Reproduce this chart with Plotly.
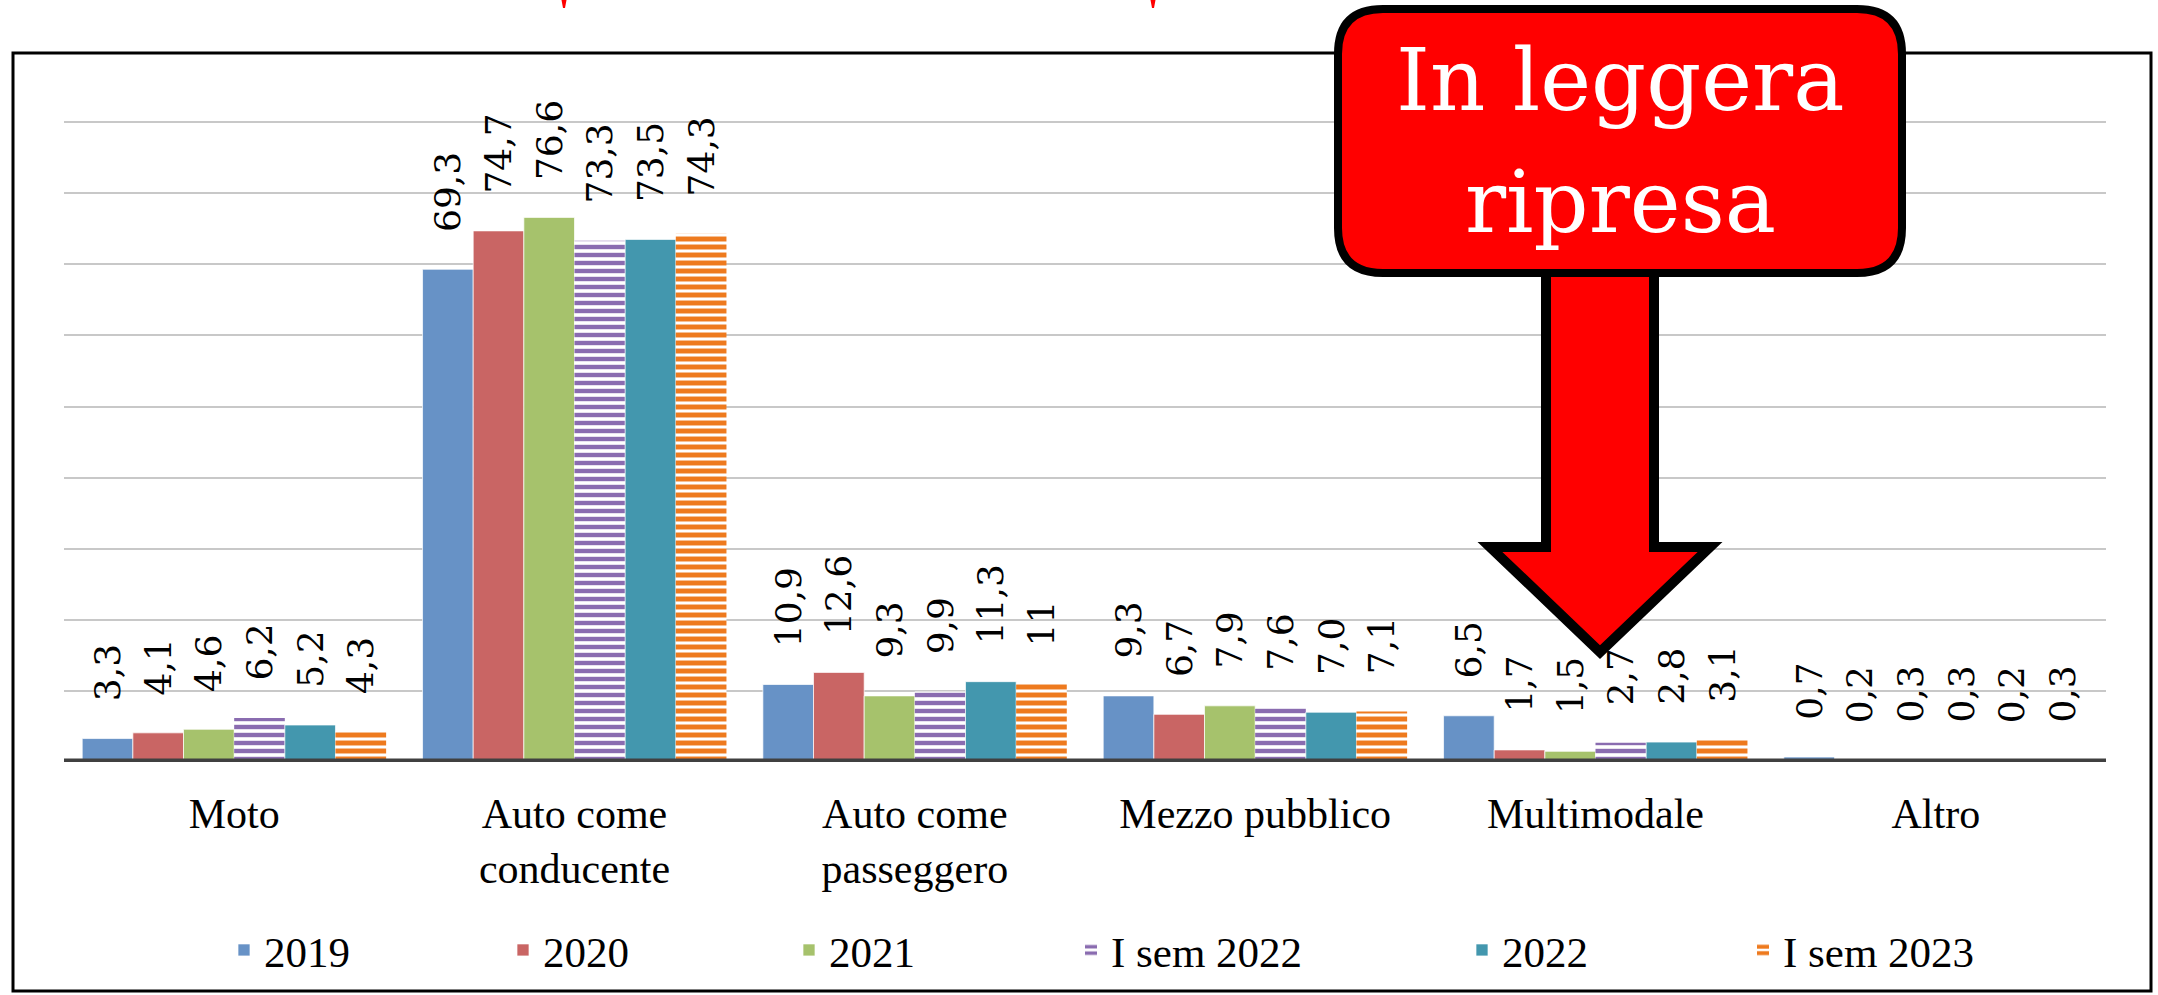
import plotly.graph_objects as go

# ---------------- data ----------------
categories = ["Moto", "Auto come<br>conducente", "Auto come<br>passeggero",
              "Mezzo pubblico", "Multimodale", "Altro"]
series_names = ["2019", "2020", "2021", "I sem 2022", "2022", "I sem 2023"]
v2019 = [3.3, 69.3, 10.9, 9.3, 6.5, 0.7]
v2020 = [4.1, 74.7, 12.6, 6.7, 1.7, 0.2]
v2021 = [4.6, 76.6, 9.3, 7.9, 1.5, 0.3]
v_isem2022 = [6.2, 73.3, 9.9, 7.6, 2.7, 0.3]
v2022 = [5.2, 73.5, 11.3, 7.0, 2.8, 0.2]
v_isem2023 = [4.3, 74.3, 11.0, 7.1, 3.1, 0.3]
labels_isem2023 = ["4,3", "74,3", "11", "7,1", "3,1", "0,3"]
callout_lines = ["In leggera", "ripresa"]

series_values = [v2019, v2020, v2021, v_isem2022, v2022, v_isem2023]

# ---------------- styles ----------------
W, H = 2158, 995
YMAX = 91
PX_PER_UNIT = (762 - 122) / 90
L, R, B = 64, 2106, 762                  # plot area in pixels
T = round(B - YMAX * PX_PER_UNIT)
colors = ["#6792C6", "#C96564", "#A6C26C", "#8A6CB0", "#4397AE", "#EE7A1E"]
striped = [False, False, False, True, False, True]
solidity = [0, 0, 0, 0.55, 0, 0.62]
legend_marker_px = [244, 523, 809, 1091, 1482, 1763]
SERIF = "Liberation Serif"
LABEL_FAMILY = "DejaVu Serif"
CALLOUT_FAMILY = "DejaVu Serif"


def px(x):
    return (x - L) / (R - L)


def py(y):
    return (B - y) / (B - T)


def fmt(v):
    return f"{v:.1f}".replace(".", ",")


label_font = dict(family=LABEL_FAMILY, size=36, color="black")

fig = go.Figure()
pad = "\u00a0\u00a0\u00a0"
for i, (name, vals) in enumerate(zip(series_names, series_values)):
    labels = labels_isem2023 if name == "I sem 2023" else [fmt(v) for v in vals]
    if striped[i]:
        marker = dict(color=colors[i],
                      pattern=dict(shape="-", fgcolor=colors[i], bgcolor="white",
                                   fillmode="replace", fgopacity=1, size=8,
                                   solidity=solidity[i]),
                      line=dict(width=0))
    else:
        marker = dict(color=colors[i], line=dict(width=1, color="rgba(255,255,255,0.7)"))
    lid = "legend" if i == 0 else f"legend{i+1}"
    fig.add_trace(go.Bar(
        name=name, x=categories, y=vals, marker=marker,
        text=[pad + t for t in labels], textposition="outside", textangle=-90,
        textfont=label_font, outsidetextfont=label_font,
        constraintext="none", cliponaxis=False, legend=lid,
        hoverinfo="x+y+name",
    ))

layout_legends = {}
for i in range(len(series_names)):
    lid = "legend" if i == 0 else f"legend{i+1}"
    layout_legends[lid] = dict(
        x=px(legend_marker_px[i] - 20), xanchor="left",
        y=py(950), yanchor="middle", orientation="h",
        bgcolor="rgba(0,0,0,0)", borderwidth=0,
        font=dict(family=SERIF, size=43, color="black"),
    )

shapes = []
# outer frame
shapes.append(dict(type="rect", xref="paper", yref="paper",
                   x0=px(13), x1=px(2151), y0=py(991), y1=py(53),
                   line=dict(color="black", width=3), layer="above"))
# top gridline
shapes.append(dict(type="line", xref="paper", yref="y", x0=0, x1=1, y0=90, y1=90,
                   line=dict(color="#C8C8C8", width=2), layer="below"))
# thick baseline
shapes.append(dict(type="line", xref="paper", yref="y", x0=0, x1=1, y0=0, y1=0,
                   line=dict(color="#404040", width=7), layer="above"))
# red fragments of a cropped title above
for xc in (564, 1153):
    shapes.append(dict(type="path", xref="paper", yref="paper",
                       path=f"M{px(xc-2.5)},{py(0)} L{px(xc+2.5)},{py(0)} L{px(xc+1)},{py(8)} L{px(xc-1)},{py(8)} Z",
                       fillcolor="#FF0000", line=dict(width=0), layer="above"))


def P(x, y):
    return f"{px(x)},{py(y)}"


# arrow (stem + head)
arrow = (f"M{P(1546,262)} L{P(1546,547)} L{P(1490,547)} L{P(1600,652)} "
         f"L{P(1710,547)} L{P(1654,547)} L{P(1654,262)} Z")
shapes.append(dict(type="path", xref="paper", yref="paper", path=arrow,
                   fillcolor="#FF0000", line=dict(color="black", width=10), layer="above"))
# rounded callout box
x0, x1, y0, y1, r = 1338, 1902, 9, 273, 45
box = (f"M{P(x0+r,y0)} L{P(x1-r,y0)} Q{P(x1,y0)} {P(x1,y0+r)} L{P(x1,y1-r)} "
       f"Q{P(x1,y1)} {P(x1-r,y1)} L{P(x0+r,y1)} Q{P(x0,y1)} {P(x0,y1-r)} "
       f"L{P(x0,y0+r)} Q{P(x0,y0)} {P(x0+r,y0)} Z")
shapes.append(dict(type="path", xref="paper", yref="paper", path=box,
                   fillcolor="#FF0000", line=dict(color="black", width=8), layer="above"))

annotations = []
for txt, ycen in zip(callout_lines, (80, 202)):
    annotations.append(dict(
        text=txt, xref="paper", yref="paper", x=px(1620), y=py(ycen),
        xanchor="center", yanchor="middle", showarrow=False,
        font=dict(family=CALLOUT_FAMILY, size=86, color="white"),
    ))

fig.update_layout(
    width=W, height=H,
    font=dict(family=SERIF, color="black"),
    margin=dict(l=L, r=W - R, t=T, b=H - B, pad=0, autoexpand=False),
    paper_bgcolor="white", plot_bgcolor="white",
    barmode="group", bargap=0.107, bargroupgap=0,
    showlegend=True,
    shapes=shapes, annotations=annotations,
    xaxis=dict(showgrid=False, showline=False, zeroline=False, ticks="",
               tickfont=dict(family=SERIF, size=42, color="black"),
               ticklabelstandoff=23),
    yaxis=dict(range=[0, YMAX], dtick=10, tick0=0, showgrid=True, gridcolor="#C8C8C8",
               gridwidth=2, zeroline=False, showticklabels=False, ticks="", showline=False),
    **layout_legends,
)

fig.write_html("out.html", config={"displayModeBar": False},
               post_script="document.body.style.margin='0';document.body.style.overflow='hidden';")
